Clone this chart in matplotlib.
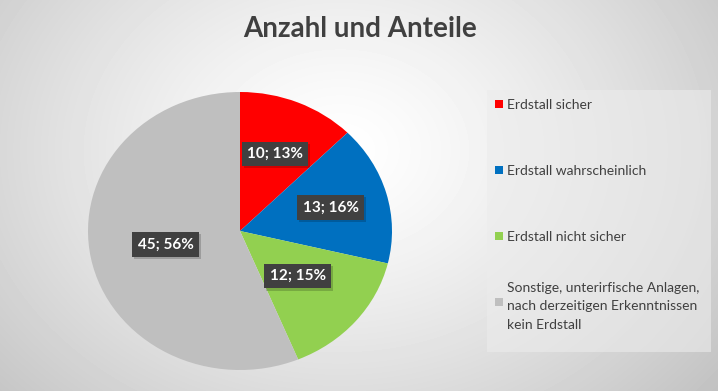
import matplotlib.pyplot as plt
import matplotlib.patheffects as pe
from matplotlib.patches import Rectangle
import numpy as np

categories = ['Erdstall sicher', 'Erdstall wahrscheinlich', 'Erdstall nicht sicher',
              'Sonstige, unterirfische Anlagen,\nnach derzeitigen Erkenntnissen\nkein Erdstall']
counts = [10, 13, 12, 45]
colors = ['#FF0000', '#0070C0', '#92D050', '#BFBFBF']
label_r = [0.6, 0.62, 0.5, 0.5]  # how far out each data label sits

plt.rcParams['font.family'] = ['Lato', 'DejaVu Sans']
W, H = 718, 391

fig = plt.figure(figsize=(W / 100, H / 100), dpi=100)

# radial gradient background
bg = fig.add_axes([0, 0, 1, 1])
bg.axis('off')
yy, xx = np.mgrid[0:H, 0:W]
d = np.hypot((xx - 340) / 420, (yy - 150) / 330)
g = np.clip(1 - 0.2 * d ** 1.3, 0, 1)
bg.imshow(g, cmap='gray', vmin=0, vmax=1, aspect='auto', extent=[0, 1, 0, 1], origin='upper')

# pie
ax = fig.add_axes([88 / W, 21 / H, 304 / W, 278 / H])
wedges, _ = ax.pie(counts, colors=colors, startangle=90, counterclock=False, radius=1)
ax.set_aspect('auto')
ax.set_xlim(-1, 1)
ax.set_ylim(-1, 1)

total = sum(counts)
for w, n, r in zip(wedges, counts, label_r):
    mid = np.deg2rad((w.theta1 + w.theta2) / 2)
    t = ax.text(r * np.cos(mid), r * np.sin(mid), f'{n}; {int(100 * n / total + 0.5)}%',
                ha='center', va='center', fontsize=11, fontweight='bold', color='white',
                bbox=dict(boxstyle='square,pad=0.35', facecolor='#404040', edgecolor='none'))
    t.get_bbox_patch().set_path_effects([
        pe.withSimplePatchShadow(offset=(1.5, -1.5), shadow_rgbFace='k', alpha=0.18), pe.Normal()])

fig.text(0.501, 1 - 29 / H, 'Anzahl und Anteile', ha='center', va='center',
         fontsize=20, fontweight='bold', color='#404040')

# legend drawn by hand
fig.add_artist(Rectangle((487 / W, 1 - 352 / H), 224 / W, 262 / H, transform=fig.transFigure,
                         facecolor='#ECECEC', alpha=0.6, edgecolor='none'))
for i, (lab, c) in enumerate(zip(categories, colors)):
    y = 1 - (104 + 66 * i) / H
    fig.add_artist(Rectangle((495 / W, y - 4 / H), 8 / W, 8 / H, transform=fig.transFigure,
                             facecolor=c, edgecolor='none'))
    fig.text(507 / W, y, lab, ha='left', va='center_baseline', fontsize=10,
             color='#404040', linespacing=1.65)

fig.savefig('out.png', dpi=100)
